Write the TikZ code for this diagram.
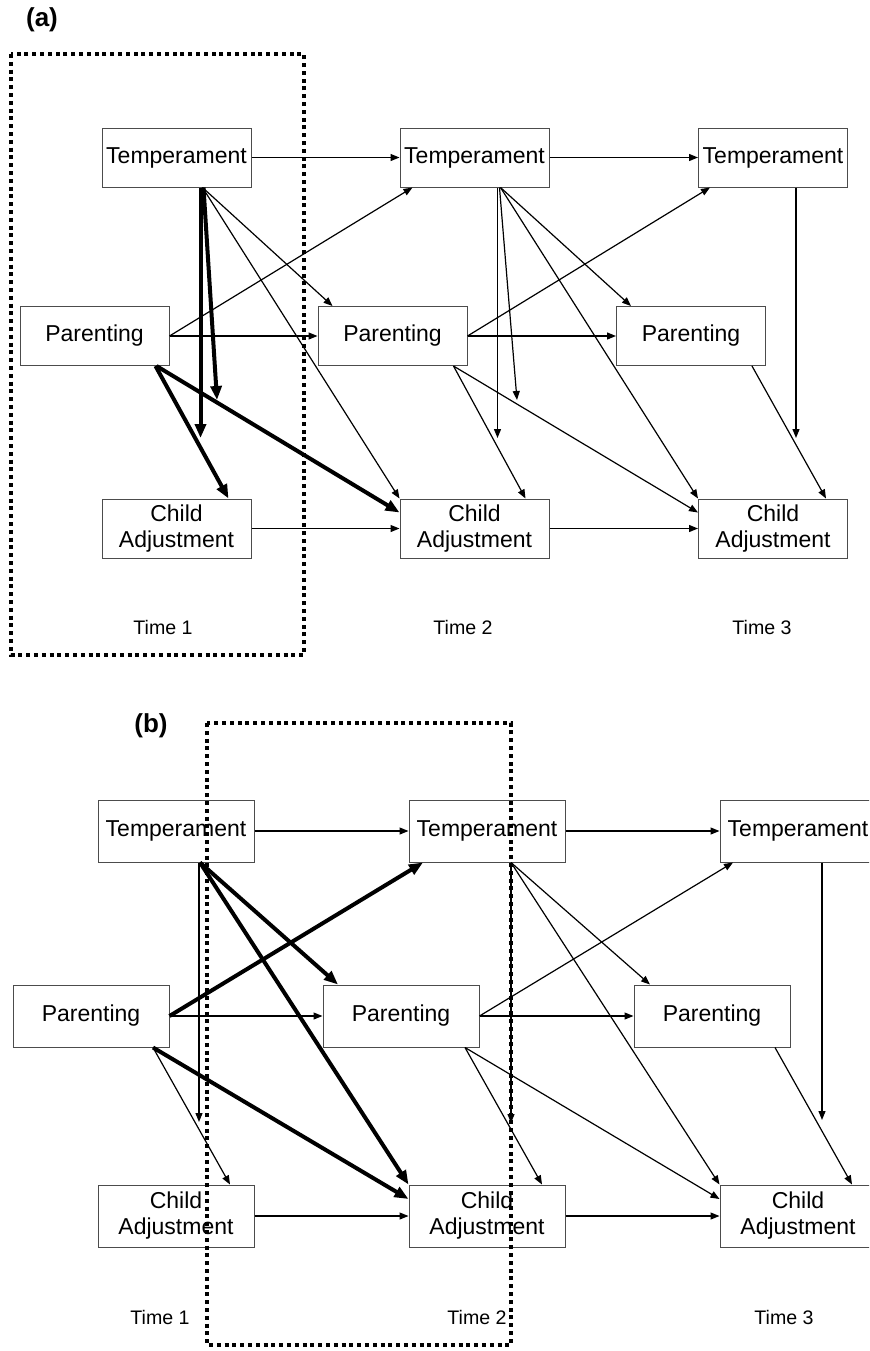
\documentclass[tikz,border=0pt]{standalone}
\usepackage{fontspec}
\setmainfont{Liberation Sans}
\usetikzlibrary{arrows.meta,calc}
\tikzset{
  var/.style={draw=black!70, line width=0.5pt, inner sep=0pt, align=center, font=\fontsize{11.5}{13}\selectfont},
  vara/.style={var, minimum width=74.5pt, minimum height=29.5pt},
  varb/.style={var, minimum width=78pt, minimum height=31pt},
  thinarr/.style={line width=0.6pt, -{Triangle[length=4.5pt,width=3.5pt]}},
  thickarr/.style={line width=2pt, -{Triangle[length=7pt,width=5.5pt]}},
  timebox/.style={line width=2pt, dash pattern=on 2pt off 1.9pt},
  timelbl/.style={font=\fontsize{9.8}{12}\selectfont},
  panel/.style={font=\bfseries\fontsize{13}{15}\selectfont}
}

\begin{document}
\begin{tikzpicture}[x=0.5pt,y=-0.5pt]
	%%%%% START %%%%%
	\useasboundingbox (0,0) rectangle (869,1351);
	\clip (0,0) rectangle (869,1351);
	
	%%%%% (a) %%%%%
	\node[panel] (lbla) at (42,20) {(a)};
	
	\node[vara] (ta1) at (176.5,157.5) {Temperament};
	\node[vara] (ta2) at (474.5,157.5) {Temperament};
	\node[vara] (ta3) at (773,157.5) {Temperament};
	\node[vara] (pa1) at (94.5,336) {Parenting};
	\node[vara] (pa2) at (392.5,336) {Parenting};
	\node[vara] (pa3) at (691,336) {Parenting};
	\node[vara] (ca1) at (176.5,528.5) {Child\\Adjustment};
	\node[vara] (ca2) at (474.5,528.5) {Child\\Adjustment};
	\node[vara] (ca3) at (773,528.5) {Child\\Adjustment};
	
	\node[timelbl] (tma1) at (163,627) {Time 1};
	\node[timelbl] (tma2) at (463,627) {Time 2};
	\node[timelbl] (tma3) at (762,627) {Time 3};
	
	\coordinate (fa1) at (200.5,438);
	\coordinate (fa2) at (217,400);
	\coordinate (fa3) at (497.5,438);
	\coordinate (fa4) at (517,400);
	\coordinate (fa5) at (796,438);
	
	\draw[thinarr] (ta1.east) -- (ta2.west);
	\draw[thinarr] (ta2.east) -- (ta3.west);
	\draw[thinarr] (pa1.east) -- (pa2.west);
	\draw[thinarr] (pa2.east) -- (pa3.west);
	\draw[thinarr] (ca1.east) -- (ca2.west);
	\draw[thinarr] (ca2.east) -- (ca3.west);
	
	\draw[thinarr] (pa1.east) -- ($(ta2.south)+(-62,0)$);
	\draw[thinarr] ($(ta1.south)+(26,0)$) -- ($(pa2.north)+(-60,0)$);
	\draw[thinarr] ($(ta1.south)+(26,0)$) -- (ca2.north west);
	\draw[thickarr] ($(ta1.south)+(24,0)$) -- (fa1);
	\draw[thickarr] ($(ta1.south)+(27,0)$) -- (fa2);
	\draw[thickarr] ($(pa1.south)+(61,0)$) -- ($(ca1.north)+(52,0)$);
	\draw[thickarr] ($(pa1.south)+(62,0)$) -- ($(ca2.west)+(0,-16)$);
	
	\draw[thinarr] ($(ta2.south)+(23,0)$) -- (fa3);
	\draw[thinarr] ($(ta2.south)+(25,0)$) -- (fa4);
	\draw[thinarr] ($(ta2.south)+(26,0)$) -- ($(pa3.north)+(-60,0)$);
	\draw[thinarr] ($(ta2.south)+(26,0)$) -- (ca3.north west);
	\draw[thinarr] (pa2.east) -- ($(ta3.south)+(-63,0)$);
	\draw[thinarr] ($(pa2.south)+(61,0)$) -- ($(ca2.north)+(51,0)$);
	\draw[thinarr] ($(pa2.south)+(61,0)$) -- ($(ca3.west)+(0,-16)$);
	\draw[thinarr] ($(pa3.south)+(61,0)$) -- ($(ca3.north)+(53,0)$);
	\draw[thinarr] ($(ta3.south)+(23,0)$) -- (fa5);
	
	\draw[timebox] (11,54) rectangle (304,655);
	
	%%%%% (b) %%%%%
	\node[panel] (lblb) at (151,726) {(b)};
	
	\node[varb] (tb1) at (176,831) {Temperament};
	\node[varb] (tb2) at (487,831) {Temperament};
	\node[varb] (tb3) at (798,831) {Temperament};
	\node[varb] (pb1) at (91,1016) {Parenting};
	\node[varb] (pb2) at (401,1016) {Parenting};
	\node[varb] (pb3) at (712,1016) {Parenting};
	\node[varb] (cb1) at (176,1216) {Child\\Adjustment};
	\node[varb] (cb2) at (487,1216) {Child\\Adjustment};
	\node[varb] (cb3) at (798,1216) {Child\\Adjustment};
	
	\node[timelbl] (tmb1) at (160,1317) {Time 1};
	\node[timelbl] (tmb2) at (477,1317) {Time 2};
	\node[timelbl] (tmb3) at (784,1317) {Time 3};
	
	\coordinate (fb1) at (199,1122);
	\coordinate (fb2) at (511,1123);
	\coordinate (fb3) at (822,1120);
	
	\draw[thinarr] (tb1.east) -- (tb2.west);
	\draw[thinarr] (tb2.east) -- (tb3.west);
	\draw[thinarr] (pb1.east) -- (pb2.west);
	\draw[thinarr] (pb2.east) -- (pb3.west);
	\draw[thinarr] (cb1.east) -- (cb2.west);
	\draw[thinarr] (cb2.east) -- (cb3.west);
	
	\draw[thinarr] ($(tb1.south)+(23,0)$) -- (fb1);
	\draw[thinarr] ($(pb1.south)+(62,0)$) -- ($(cb1.north)+(54,0)$);
	\draw[thickarr] (pb1.east) -- ($(tb2.south)+(-64,0)$);
	\draw[thickarr] ($(tb1.south)+(24,0)$) -- ($(pb2.north)+(-63,0)$);
	\draw[thickarr] ($(tb1.south)+(24,0)$) -- (cb2.north west);
	\draw[thickarr] ($(pb1.south)+(62,0)$) -- ($(cb2.west)+(0,-17)$);
	
	\draw[thinarr] ($(tb2.south)+(24,0)$) -- (fb2);
	\draw[thinarr] ($(tb2.south)+(24,0)$) -- ($(pb3.north)+(-62,0)$);
	\draw[thinarr] ($(tb2.south)+(24,0)$) -- (cb3.north west);
	\draw[thinarr] (pb2.east) -- ($(tb3.south)+(-65,0)$);
	\draw[thinarr] ($(pb2.south)+(64,0)$) -- ($(cb2.north)+(55,0)$);
	\draw[thinarr] ($(pb2.south)+(64,0)$) -- ($(cb3.west)+(0,-17)$);
	\draw[thinarr] ($(pb3.south)+(63,0)$) -- ($(cb3.north)+(54,0)$);
	\draw[thinarr] ($(tb3.south)+(24,0)$) -- (fb3);
	
	\draw[timebox] (207,723) rectangle (511,1345);
	%%%%% END %%%%%
\end{tikzpicture}
\end{document}
